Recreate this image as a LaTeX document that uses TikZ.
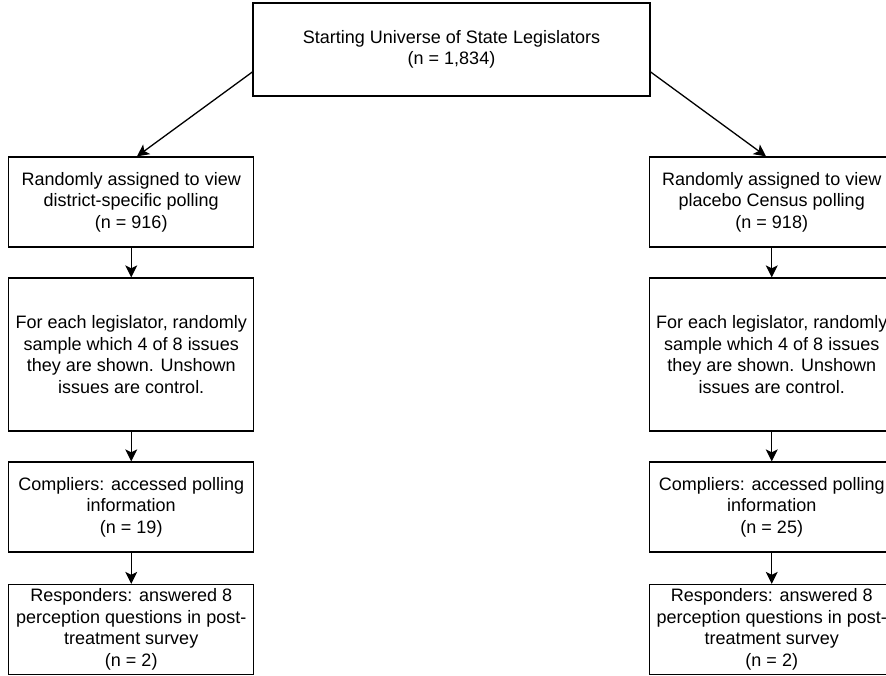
\documentclass[tikz,border=0pt]{standalone}
\usepackage{fontspec}
\setmainfont{Liberation Sans}
\usetikzlibrary{arrows.meta}

\begin{document}
\begin{tikzpicture}[
	every node/.style={rectangle, draw=black, line width=1.3pt, font=\fontsize{18pt}{21.6pt}\selectfont, align=center, inner sep=0pt, minimum width=245pt, minimum height=90pt},
	straightedge/.style={edge from parent path={(\tikzparentnode\tikzparentanchor) -- (\tikzchildnode\tikzchildanchor)}},
	grow=down,
	level distance=152.5pt,
	level 1/.style={sibling distance=640.5pt},
	level 2/.style={straightedge},
	level 3/.style={straightedge},
	level 4/.style={straightedge, level distance=122.5pt},
	parent anchor=south, child anchor=north,
	edge from parent/.style={draw, line width=1.3pt, -{Stealth[length=12pt, width=12pt, inset=3pt]}},
]
\clip (0pt,0pt) rectangle (886pt,-676pt); % right column runs off the page
\node (start) at (451.5pt,-49.5pt) [minimum width=397pt, minimum height=93pt] {Starting Universe of State Legislators \\ (n = 1,834)}
	child[edge from parent path={([yshift=-22.5pt]\tikzparentnode.west) -- ([xshift=5.75pt]\tikzchildnode.north)}] {node (polldistrict) {Randomly assigned to view \\ district-specific polling \\ (n = 916)}
		child {node (sampledistrict) [minimum height=153pt] {For each legislator, randomly \\ sample which 4 of 8 issues \\ they are shown. Unshown \\ issues are control.}
			child {node (complydistrict) {Compliers: accessed polling \\ information \\ (n = 19)}
				child {node (responddistrict) {Responders: answered 8 \\ perception questions in post- \\ treatment survey \\ (n = 2)}}
			}
		}
	}
	child[edge from parent path={([yshift=-22.5pt]\tikzparentnode.east) -- ([xshift=-5.75pt]\tikzchildnode.north)}] {node (pollplacebo) {Randomly assigned to view \\ placebo Census polling \\ (n = 918)}
		child {node (sampleplacebo) [minimum height=153pt] {For each legislator, randomly \\ sample which 4 of 8 issues \\ they are shown. Unshown \\ issues are control.}
			child {node (complyplacebo) {Compliers: accessed polling \\ information \\ (n = 25)}
				child {node (respondplacebo) {Responders: answered 8 \\ perception questions in post- \\ treatment survey \\ (n = 2)}}
			}
		}
	};
\end{tikzpicture}
\end{document}
